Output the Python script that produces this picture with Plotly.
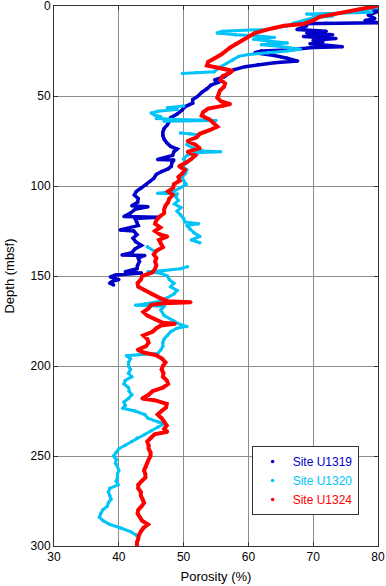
import plotly.graph_objects as go

# ---- Site U1319 (dark blue) ----
u1319_depth = [0, 1.5, 3, 5, 7, 8, 9.3, 9.6, 9.9, 11, 13, 14, 15, 16, 17, 18, 19, 20, 21, 22.6, 23,
               24.4, 25, 26, 27.5, 29, 30.6, 31.5, 32.5, 33.7, 35.5, 37.4, 39.3, 41, 42.5, 44, 46, 48,
               50.4, 52, 54, 56, 58, 60, 62, 64, 66, 68, 70, 72, 74, 76, 78, 79.5, 81, 83, 85.3, 85.6,
               87, 89, 90.5, 92, 93.5, 95.7, 97.5, 99.4, 101, 103, 105, 107, 109, 111, 111.5, 113,
               115, 117, 117.3, 118, 120, 122, 124.4, 125, 127, 129, 131, 133, 135, 137, 138.3, 138.6,
               140, 142, 144, 146, 147.6, 148.4, 149.4, 150.5, 152, 153, 154, 155]
u1319_por = [79.5, 79.2, 80, 78.5, 79.5, 78, 80, 72, 68, 69, 67.5, 72, 69, 73, 68.5, 73.5, 70, 71.5, 69.5, 74.5, 70,
             66, 62, 61, 64, 66, 67.6, 64, 61.5, 59.5, 57.7, 57, 56.3, 54.8, 55.3, 54.2, 53.6, 52.8,
             52.1, 51.4, 51.4, 50.2, 49.7, 49, 48, 47.8, 47.5, 47, 46.8, 46.8, 47, 47.4, 48, 49, 48.5, 48.3, 46, 48.5,
             48.2, 48.1, 47.6, 46.6, 45.8, 45.4, 44.8, 44.2, 43.5, 42.7, 42.4, 43, 42.9, 42, 44.5, 42.5,
             41.8, 40.8, 46, 42.5, 42.8, 43, 40.2, 42.3, 42.8, 42.2, 42.6, 43.5, 42.5, 42, 40.5, 44,
             43, 43.2, 42.9, 42.8, 41, 43.5, 39.5, 38.7, 40, 39, 38.6, 39.2]

# ---- Site U1320 (cyan) ----
u1320_depth = [0, 1, 2, 3.5, 4, 4.5, 5.5, 6.5, 8, 9.5, 11, 13, 14, 15, 16, 16.5, 17.5, 18.5, 19.5, 20.5,
               21.5, 22.5, 24, 25, 26, 27, 28, 30, 32, 34, 36.5, 37, 37.5, 46,
               55.5, 56.5, 57.5, 58.5, 59.5, 60.5, 61.5, 62.5, 63, 63.3, 63.6, 64, 66,
               70.5, 71, 71.5, 74,
               77, 79, 80.5, 81, 81.5, 83, 85, 87, 89, 91, 93, 95, 97, 99, 101, 103, 104, 104.5,
               106, 108, 110, 112, 114, 116, 118, 120, 121, 122, 124, 126, 128, 130, 131.5, 133,
               133.7, 136.5, 140,
               144.8, 146, 147, 147.6, 148.5, 150, 152, 154, 156, 158, 160, 162, 164, 165.5, 166.2, 166.8,
               169, 172, 175, 177, 178, 179, 181, 183, 185, 187, 189, 191, 193, 193.8, 194.3, 196, 198,
               200, 202, 204, 206, 208, 210, 212, 214, 216, 218, 220, 222, 223.5, 225, 227, 229, 231, 232,
               234, 236, 238, 240, 242, 244, 246, 248, 250, 252, 254, 256, 258, 260, 262, 264, 266, 268,
               270, 272, 274, 276, 278, 280, 282, 284, 286, 288, 290, 292, 294, 295]
u1320_por = [78.8, 79.8, 77, 79, 74, 69, 73, 70, 68.5, 67, 66, 63, 56, 55.2, 58, 61, 64, 60.8, 63, 66,
             62, 65, 68, 66, 63, 60, 58.5, 57.6, 56.6, 55.6, 54.7, 52, 49.8, None,
             50, 47.5, 49, 46, 45, 45.5, 46.5, 45.8, 49, 52.5, 55, 47, None,
             49.5, 51, 52.3, None,
             50.5, 51.5, 53, 55.7, 52, 50.5, 50, 50.5, 49.8, 50.5, 50.3, 49.8, 50, 50.4, 49.5, 48.5, 46, 49,
             48.8, 49.2, 48.6, 49.6, 49, 49.5, 50, 50.2, 52.3, 50.5, 51, 51.6, 52.5, 51.2, 52.5, None,
             44.4, 45.6, None,
             50.6, 49.5, 47, 44.5, 46.5, 47.5, 47.8, 48.5, 48, 49, 48.5, 47.5, 46.5, 44, 42.6, 47,
             46.5, 47, 48.5, 49.5, 50.5, 49, 48, 47.5, 47, 46.8, 46.8, 46.5, 46, 43, 41.2, 41.8, 41.5,
             41.5, 41.8, 41.5, 42, 41, 40.8, 41.5, 41.6, 42, 41.5, 40.8, 41, 40.6, 42.5, 44, 44.5, 46, 47,
             46, 45, 44, 42.8, 42, 41, 40, 39.6, 39.2, 39.6, 39.5, 39.8, 40, 39.8, 39.8, 39.6, 39.9, 38.6,
             38.4, 38.6, 38.8, 38.4, 38.2, 37.5, 37.2, 37, 37.6, 38.6, 40.3, 41.8, 42.7, 43]

# ---- Site U1324 (red) ----
u1324_depth = [0, 2, 4, 6, 8, 10, 11, 12, 13, 15, 17, 19, 21, 23, 25, 27, 29, 31, 33, 34, 35, 36, 37,
               39, 41, 43, 45, 47, 49, 51, 53, 54.5, 55.5, 57, 59, 61, 63, 65, 67, 69, 71, 73, 75, 77,
               79, 81, 83, 85, 87, 89, 91, 93, 95, 97, 99, 101, 103, 105, 107, 109, 111, 113, 115, 117,
               119, 121, 123, 125, 127, 128, 130, 132, 134, 136, 138, 140, 142, 144, 146, 148, 150, 152,
               154, 156, 158, 160, 162, 164, 164.6, 165.2, 166, 168, 170, 172, 174, 176, 176.5, 177.5,
               179, 181, 183, 185, 187, 189, 191, 192.5, 194, 196, 198, 200, 202, 204, 206, 208, 210,
               212, 214, 216, 218, 219, 221, 223, 225, 227, 229, 231, 233, 235, 236.5, 238, 240, 242,
               244, 246, 248, 250, 252, 254, 256, 258, 260, 262, 264, 266, 268, 270, 272, 274, 276, 278,
               280, 282, 284, 286, 288, 290, 292, 294, 296, 298, 300]
u1324_por = [79.8, 77, 74, 71, 70, 68.5, 65.5, 64, 63, 61, 60, 59, 58, 57.2, 56.5, 55.8, 54.8, 53.8, 53.6, 55, 56.5, 57.5, 57.2,
             56, 55.7, 56.4, 56.2, 55.6, 55.4, 55.2, 55.8, 57.2, 56, 53.8, 53, 52.8, 54, 54.6, 55.2, 54, 52.5, 52, 50.6, 51.8,
             52.5, 50.6, 51.8, 51.2, 50.4, 49.3, 50.2, 49.8, 49.2, 49.4, 48.5, 48.4, 47.6, 48.3, 47.8, 47.6, 47.2, 47, 47, 46.3,
             45.8, 45.6, 46.4, 45.6, 46.4, 47.5, 46.2, 46.5, 46.8, 45.8, 45.4, 45.8, 45.6, 45.8, 45.6, 45.2, 43.6, 43.4,
             42.9, 43, 44, 45, 46.2, 47.5, 51.1, 47, 45, 44.6, 43.8, 44.4, 45.5, 46.8, 48.7, 46.5,
             45.8, 45.2, 43.8, 44.4, 44.6, 44.2, 42.9, 43.8, 45.8, 46.7, 47.2, 46.8, 46.6, 46.9, 46.8, 47.4, 47.6,
             46.8, 45.2, 44.6, 43.6, 45.5, 47.4, 47.3, 46.6, 46, 46.6, 47, 47.4, 47, 47.5, 45.5, 44.9, 44.4,
             44.6, 44.6, 44.9, 44.9, 44.6, 44.4, 44.2, 43.9, 44.1, 44.1, 43.5, 43, 43, 43.4, 43.4, 43.7, 43.9, 43.5,
             43, 42.9, 43.3, 43.6, 44.5, 43.8, 43.4, 43.1, 43, 42.8, 42.8]

series = [
    ("Site U1319", u1319_por, u1319_depth, "#0000c8", 3.5),
    ("Site U1320", u1320_por, u1320_depth, "#00c4f8", 3.0),
    ("Site U1324", u1324_por, u1324_depth, "#ff0000", 4.0),
]

FONT = "Liberation Sans, Arial, sans-serif"

fig = go.Figure()
for name, xs, ys, col, lw in series:
    fig.add_trace(go.Scatter(x=xs, y=ys, mode="lines", line=dict(color=col, width=lw),
                             showlegend=False, hoverinfo="skip", connectgaps=False))
    fig.add_trace(go.Scatter(x=xs, y=ys, mode="markers",
                             marker=dict(color=col, size=3.5),
                             name='<span style="color:%s">%s</span>' % (col, name)))

axis_common = dict(showgrid=True, gridcolor="#8c8c8c", gridwidth=1, zeroline=False,
                   showline=True, linecolor="#333333", linewidth=1, mirror="ticks",
                   ticks="inside", ticklen=4, tickcolor="#333333", automargin=False,
                   ticklabeloverflow="allow",
                   tickfont=dict(family=FONT, size=12, color="#000"))

fig.update_xaxes(range=[30, 80], tick0=30, dtick=10,
                 title=dict(text="Porosity (%)", standoff=8,
                            font=dict(family=FONT, size=13, color="#000")),
                 **axis_common)
fig.update_yaxes(range=[300, 0], tick0=0, dtick=50,
                 title=dict(text="Depth (mbsf)", standoff=13,
                            font=dict(family=FONT, size=13, color="#000")),
                 **axis_common)

fig.update_layout(
    width=386, height=586,
    margin=dict(l=54, r=8, t=6, b=40),
    paper_bgcolor="white", plot_bgcolor="white",
    font=dict(family=FONT, size=12),
    legend=dict(x=0.61, y=0.185, xanchor="left", yanchor="top",
                bgcolor="white", bordercolor="#333333", borderwidth=1,
                font=dict(size=12), itemwidth=30, tracegroupgap=2),
)

fig.write_html("out.html", config={"displayModeBar": False},
               post_script="document.body.style.margin='0';document.body.style.padding='0';")
